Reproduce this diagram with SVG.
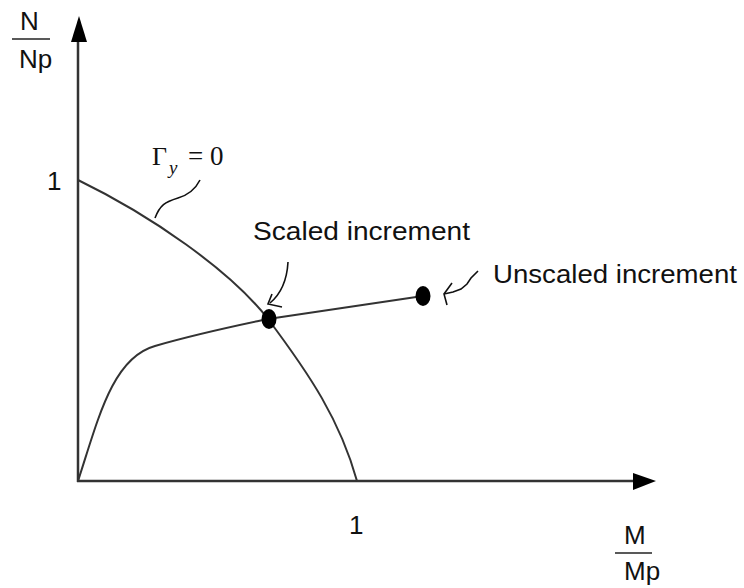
<svg xmlns="http://www.w3.org/2000/svg" width="744" height="588" viewBox="0 0 744 588">
<defs>
<style>
.lbl{font-family:"Liberation Sans",Arial,sans-serif;font-size:26px;fill:#111}
.ser{font-family:"Liberation Serif","Times New Roman",serif;fill:#111}
.ax{stroke:#333;stroke-width:2.5;fill:none}
.crv{stroke:#333;stroke-width:2;fill:none}
.thin{stroke:#111;stroke-width:1.6;fill:none}
</style>
</defs>
<rect width="744" height="588" fill="#fff"/>
<g id="axes">
<line class="ax" x1="78" y1="482" x2="78" y2="30"/>
<path d="M79,16 L71,42 L87,42 z" fill="#000"/>
<line class="ax" x1="77" y1="481" x2="642" y2="481"/>
<path d="M656,481 L633,473 L633,490 z" fill="#000"/>
</g>
<g id="y-label">
<text class="lbl" x="20" y="30" font-size="23">N</text>
<line x1="12" y1="39" x2="50" y2="39" stroke="#222" stroke-width="1.5"/>
<text class="lbl" x="19" y="68" font-size="23">Np</text>
<text class="lbl" x="47" y="190">1</text>
</g>
<g id="x-label">
<text class="lbl" x="349" y="534">1</text>
<text class="lbl" x="624" y="544" font-size="23">M</text>
<line x1="615" y1="553" x2="652" y2="553" stroke="#222" stroke-width="1.5"/>
<text class="lbl" x="624" y="580" font-size="23">Mp</text>
</g>
<g id="yield-surface">
<path class="crv" d="M78,180 C150,215 230,270 268,319 C310,375 340,420 357,481"/>
<text class="ser" x="152" y="165" font-size="26">Γ</text>
<text class="ser" x="169" y="174" font-size="19" font-style="italic">y</text>
<text class="ser" x="188" y="165" font-size="27">= 0</text>
<path class="thin" d="M200,180 C195,190 188,195 178,198 C165,202 160,205 155,218"/>
</g>
<g id="load-path">
<path class="crv" d="M78,481 C98,420 112,358 155,346 C200,333 240,325 268,319 L423,296"/>
</g>
<g id="scaled">
<ellipse cx="269" cy="319" rx="7.5" ry="10" fill="#000"/>
<text class="lbl" x="253" y="240" textLength="217" lengthAdjust="spacingAndGlyphs">Scaled increment</text>
<path class="thin" d="M288,262 C287,280 282,293 270,303"/>
<path class="thin" d="M272,294 L268,304 L282,307"/>
</g>
<g id="unscaled">
<ellipse cx="423" cy="296" rx="7.5" ry="10" fill="#000"/>
<text class="lbl" x="493" y="283" textLength="244" lengthAdjust="spacingAndGlyphs">Unscaled increment</text>
<path class="thin" d="M478,271 L471,278 L467,284 L461,289 L453,292 L444,294"/>
<path class="thin" d="M452,283 L444,294 L447,305"/>
</g>
</svg>
